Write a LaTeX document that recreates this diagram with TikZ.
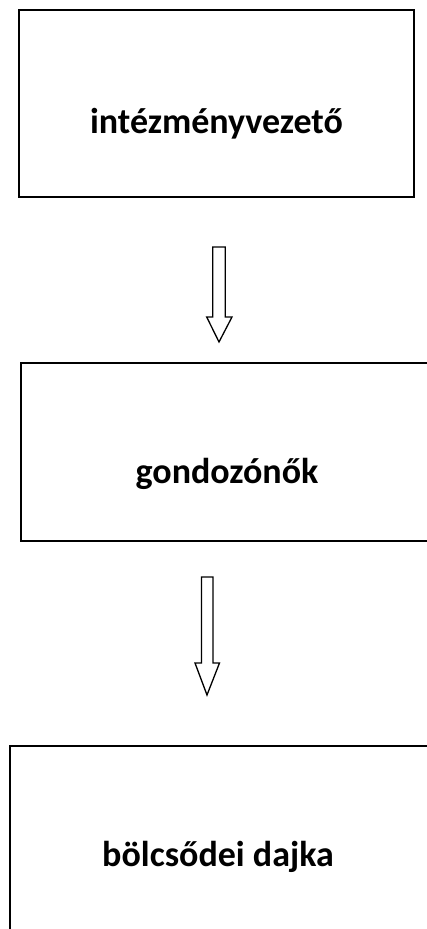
\documentclass[tikz,border=0pt]{standalone}
\usepackage{fontspec}
\setmainfont{Carlito}
\begin{document}
\begin{tikzpicture}[x=1pt,y=-1pt,
  box/.style={draw=black, line width=1.3pt, inner sep=0pt},
  lbl/.style={font=\bfseries\fontsize{36}{40}\selectfont, anchor=base, inner sep=0pt},
  blockarrow/.style={draw=black, line width=1.3pt, fill=white, line join=miter}]
\useasboundingbox (0,0) rectangle (427,929);
\clip (0,0) rectangle (427,929);
% boxes
\node[box, minimum width=395pt, minimum height=187pt] (b1) at (216.5,103.5) {};
\node[box, minimum width=420pt, minimum height=178pt] (b2) at (231,452) {};
\node[box, minimum width=440pt, minimum height=200pt] (b3) at (230,846) {};
% labels
\node[lbl] (t1) at (216.5,133) {intézményvezető};
\node[lbl] (t2) at (227,483) {gondozónők};
\node[lbl] (t3) at (218,866) {bölcsődei dajka};
% block arrows
\coordinate (a1) at (219,247);
\draw[blockarrow] (212.7,247) -- (225.3,247) -- (225.3,317) -- (232,317) -- (219,342)
  -- (206.7,317) -- (212.7,317) -- cycle;
\coordinate (a2) at (207,577);
\draw[blockarrow] (201.5,577) -- (213,577) -- (213,663) -- (219.5,663) -- (207,695)
  -- (195,663) -- (201.5,663) -- cycle;
\end{tikzpicture}
\end{document}
